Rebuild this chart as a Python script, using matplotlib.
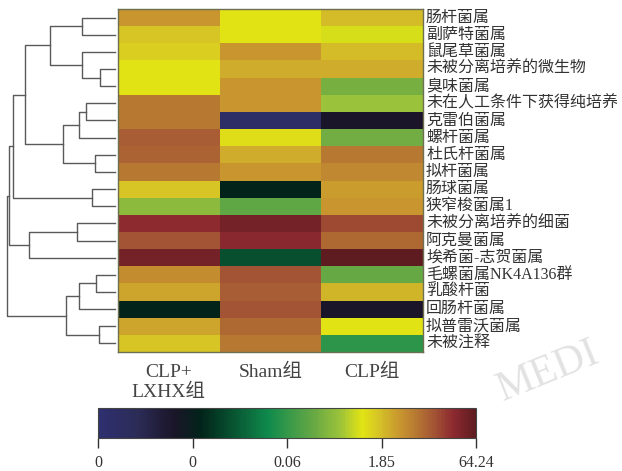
import numpy as np
import matplotlib
matplotlib.use("Agg")
import matplotlib.pyplot as plt
from matplotlib.colors import LinearSegmentedColormap

plt.rcParams['font.family'] = ['Liberation Serif', 'Noto Sans CJK SC', 'DejaVu Sans']

genera = ["肠杆菌属", "副萨特菌属", "鼠尾草菌属", "未被分离培养的微生物", "臭味菌属",
          "未在人工条件下获得纯培养", "克雷伯菌属", "螺杆菌属", "杜氏杆菌属", "拟杆菌属",
          "肠球菌属", "狭窄梭菌属1", "未被分离培养的细菌", "阿克曼菌属", "埃希菌-志贺菌属",
          "毛螺菌属NK4A136群", "乳酸杆菌", "回肠杆菌属", "拟普雷沃菌属", "未被注释"]
groups = ["CLP+\nLXHX组", "Sham组", "CLP组"]

# scaled abundance (position on the colour scale, 0..1)
clp_lxhx = [0.80, 0.74, 0.73, 0.70, 0.70, 0.84, 0.84, 0.875, 0.87, 0.84,
            0.74, 0.62, 0.94, 0.89, 0.97, 0.81, 0.78, 0.27, 0.78, 0.74]
sham = [0.70, 0.70, 0.80, 0.77, 0.80, 0.80, 0.05, 0.71, 0.77, 0.80,
        0.27, 0.56, 0.97, 0.945, 0.35, 0.89, 0.875, 0.89, 0.86, 0.84]
clp = [0.75, 0.69, 0.75, 0.77, 0.59, 0.64, 0.20, 0.585, 0.84, 0.82,
       0.79, 0.80, 0.90, 0.86, 1.00, 0.57, 0.76, 0.20, 0.70, 0.49]

cbar_ticks = [0, 0.25, 0.5, 0.75, 1.0]
cbar_labels = ["0", "0", "0.06", "1.85", "64.24"]

# dendrogram merges: (left node, right node, height); new nodes numbered from 20
merges = [(0, 1, 33), (3, 4, 15), (2, 21, 33.5), (20, 22, 65),
          (5, 6, 29), (24, 7, 36), (8, 9, 20), (25, 26, 52), (23, 27, 90),
          (10, 11, 23), (28, 29, 102), (12, 13, 38), (31, 14, 86), (30, 32, 106),
          (15, 16, 19), (34, 17, 36), (18, 19, 16), (35, 36, 49), (33, 37, 108)]

cmap = LinearSegmentedColormap.from_list("hm", [
    (0.00, "#2e2f70"), (0.10, "#2c2c58"), (0.20, "#1a1528"), (0.27, "#02231a"),
    (0.35, "#07502f"), (0.45, "#0f8a4c"), (0.49, "#2d954a"), (0.57, "#66a844"),
    (0.64, "#9bc23a"), (0.70, "#e2e414"), (0.75, "#d4be28"), (0.80, "#c8952e"),
    (0.84, "#b87a32"), (0.89, "#a35434"), (0.94, "#8d2a30"), (1.00, "#5e1c20")])

W, H = 622, 471
fig = plt.figure(figsize=(W / 100, H / 100), dpi=100)

def box(l, t, r, b):
    return [l / W, 1 - b / H, (r - l) / W, (b - t) / H]

# faint watermark behind everything
fig.text(548 / W, 1 - 372 / H, "MEDI", fontsize=30, color="#e2e2e2",
         rotation=22, ha="center", va="center", zorder=-10)

data = np.array([clp_lxhx, sham, clp]).T
n = len(genera)

ax = fig.add_axes(box(118, 9, 423, 352))
ax.pcolormesh(np.arange(4), np.arange(n + 1), data, cmap=cmap, vmin=0, vmax=1)
ax.set_xlim(0, 3)
ax.set_ylim(n, 0)
ax.set_xticks([])
ax.set_yticks([])
for s in ax.spines.values():
    s.set_color("#6e6e50")
    s.set_linewidth(1)
for i, g in enumerate(genera):
    ax.text(3.03, i + 0.5, g, va="center", ha="left", fontsize=11.5, color="#333333")
for j, g in enumerate(groups):
    ax.text(j + 0.5, n + 0.7, g, va="top", ha="center", fontsize=14,
            color="#444444", linespacing=1.2)

# dendrogram
dax = fig.add_axes(box(5, 9, 118, 352))
pos = {i: (0.0, i + 0.5) for i in range(n)}
for k, (a, b, h) in enumerate(merges):
    xa, ya = pos[a]
    xb, yb = pos[b]
    dax.plot([xa, h, h, xb], [ya, ya, yb, yb], color="#5a5a5a", lw=1)
    pos[n + k] = (h, (ya + yb) / 2)
dax.set_xlim(110, -3)
dax.set_ylim(n, 0)
dax.axis("off")

# colorbar
cax = fig.add_axes(box(98, 408, 476, 438))
sm = plt.cm.ScalarMappable(cmap=cmap, norm=plt.Normalize(0, 1))
cb = fig.colorbar(sm, cax=cax, orientation="horizontal", ticks=cbar_ticks)
cb.set_ticklabels(cbar_labels)
cb.ax.tick_params(labelsize=11.5, length=7, width=1, pad=5, colors="#333333")
cb.outline.set_edgecolor("#444444")

fig.savefig("out.png", dpi=100)
